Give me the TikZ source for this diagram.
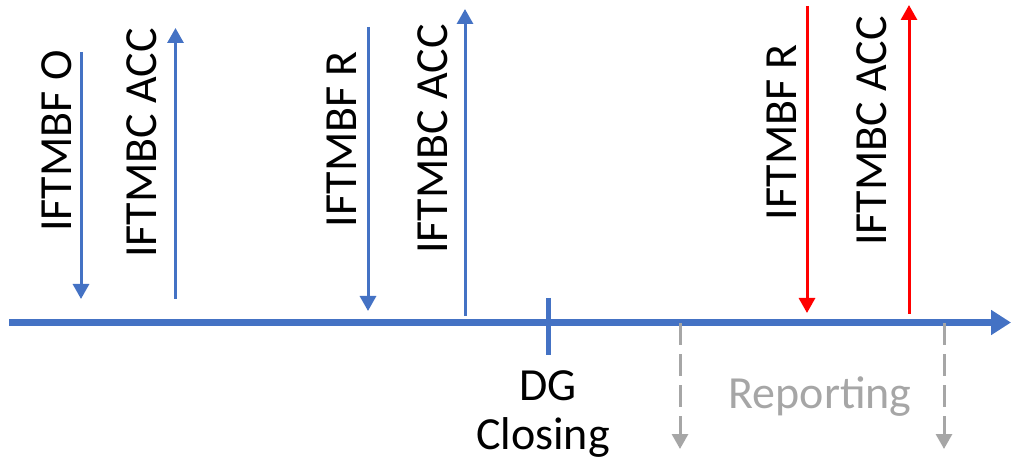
\documentclass[tikz,border=0pt]{standalone}
\usepackage{fontspec}
\setmainfont{Carlito}
\usetikzlibrary{arrows.meta}
\definecolor{axblue}{RGB}{68,114,196}
\definecolor{evred}{RGB}{255,0,0}
\definecolor{repgray}{RGB}{166,166,166}
\begin{document}
\begin{tikzpicture}[x=1pt,y=-1pt,
  lbl/.style={font=\fontsize{46}{52}\selectfont, inner sep=0pt},
  vlbl/.style={lbl, rotate=90},
  evblue/.style={draw=axblue, line width=3pt, -{Triangle[width=16pt,length=15pt]}},
  evredar/.style={draw=evred, line width=3pt, -{Triangle[width=16pt,length=15pt]}},
  axisline/.style={draw=axblue, line width=7pt, -{Triangle[width=24pt,length=20pt]}},
  repline/.style={draw=repgray, line width=3pt, dash pattern=on 22pt off 9pt, -{Triangle[width=16pt,length=15pt]}}
]
\useasboundingbox (0,0) rectangle (1012,462);
% axis
\coordinate (axs) at (9,322.5);
\coordinate (axe) at (1011,322.5);
\draw[axisline] (axs) -- (axe);
% DG tick
\coordinate (dgt) at (548,298);
\coordinate (dgb) at (548,355);
\draw[draw=axblue, line width=5pt] (dgt) -- (dgb);
\node[lbl] (dg) at (548,386) {DG};
\node[lbl] (closing) at (543,437) {Closing};
% blue events
\coordinate (a1s) at (81,52);  \coordinate (a1e) at (81,299);
\draw[evblue] (a1s) -- (a1e);
\node[vlbl] (t1) at (57,141) {IFTMBF O};
\coordinate (a2s) at (175.5,299);  \coordinate (a2e) at (175.5,28);
\draw[evblue] (a2s) -- (a2e);
\node[vlbl] (t2) at (142,143) {IFTMBC ACC};
\coordinate (a3s) at (368,27);  \coordinate (a3e) at (368,311);
\draw[evblue] (a3s) -- (a3e);
\node[vlbl] (t3) at (342,139) {IFTMBF R};
\coordinate (a4s) at (465,316);  \coordinate (a4e) at (465,9);
\draw[evblue] (a4s) -- (a4e);
\node[vlbl] (t4) at (433,139) {IFTMBC ACC};
% red events
\coordinate (a5s) at (807,6);  \coordinate (a5e) at (807,313);
\draw[evredar] (a5s) -- (a5e);
\node[vlbl] (t5) at (782,132) {IFTMBF R};
\coordinate (a6s) at (909,314);  \coordinate (a6e) at (909,5);
\draw[evredar] (a6s) -- (a6e);
\node[vlbl] (t6) at (872,131) {IFTMBC ACC};
% reporting
\coordinate (r1s) at (680,323);  \coordinate (r1e) at (680,449);
\draw[repline] (r1s) -- (r1e);
\coordinate (r2s) at (944,323);  \coordinate (r2e) at (944,449);
\draw[repline] (r2s) -- (r2e);
\node[lbl, text=repgray] (rep) at (820,397) {Reporting};
\end{tikzpicture}
\end{document}
